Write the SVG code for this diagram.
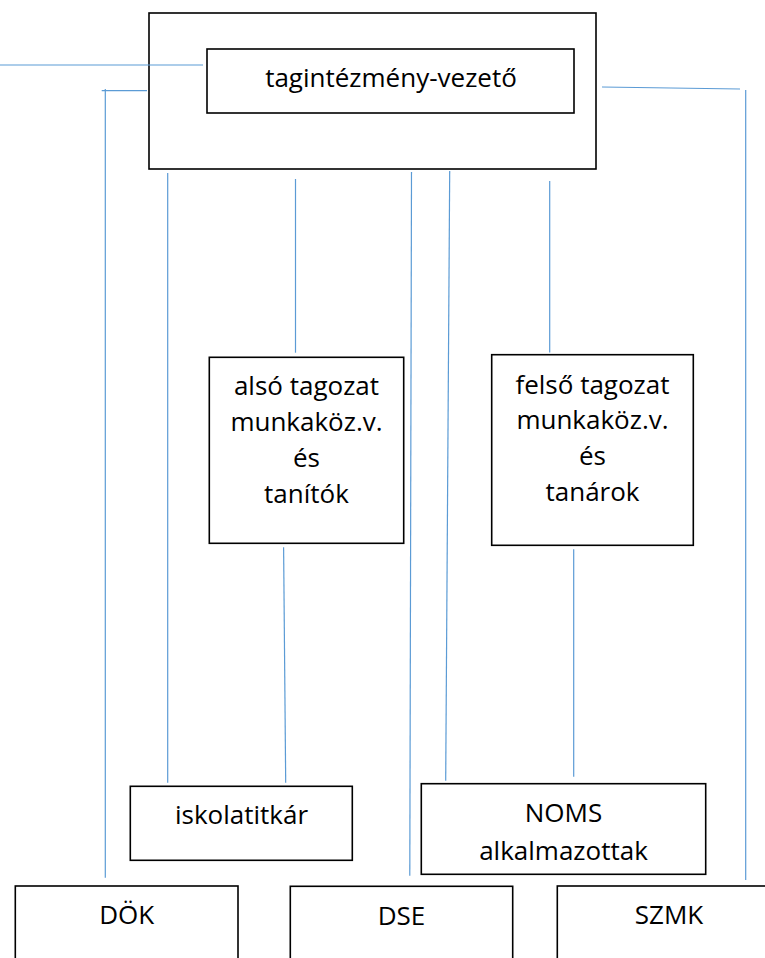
<svg xmlns="http://www.w3.org/2000/svg" width="765" height="958" viewBox="0 0 765 958">
<style>
.box{fill:#fff;stroke:#000;stroke-width:1.6}
.frame{fill:none;stroke:#000;stroke-width:1.6}
.t{font-family:"Open Sans","Liberation Sans",sans-serif;font-size:26px;fill:#000;text-anchor:middle}
.c line{stroke:#5b9bd5;stroke-width:1.2}
</style>
<rect width="765" height="958" fill="#fff"/>
<g id="top">
<rect class="frame" x="149" y="13" width="447" height="156"/>
<rect class="box" x="207" y="49" width="367" height="64"/>
<text class="t" x="391" y="87">tagintézmény-vezető</text>
</g>
<g id="also">
<rect class="box" x="209.3" y="357.3" width="194.4" height="186"/>
<text class="t" x="306.5" y="395">alsó tagozat</text>
<text class="t" x="306.5" y="431">munkaköz.v.</text>
<text class="t" x="306.5" y="467">és</text>
<text class="t" x="306.5" y="503">tanítók</text>
</g>
<g id="felso">
<rect class="box" x="491.7" y="354.7" width="201.6" height="190.6"/>
<text class="t" x="592.5" y="394">felső tagozat</text>
<text class="t" x="592.5" y="429">munkaköz.v.</text>
<text class="t" x="592.5" y="465">és</text>
<text class="t" x="592.5" y="501">tanárok</text>
</g>
<g id="iskolatitkar">
<rect class="box" x="130.3" y="786.3" width="222" height="74"/>
<text class="t" x="241.5" y="824">iskolatitkár</text>
</g>
<g id="noms">
<rect class="box" x="421.3" y="783.7" width="284.4" height="90.6"/>
<text class="t" x="563.5" y="822">NOMS</text>
<text class="t" x="563.5" y="860">alkalmazottak</text>
</g>
<g id="dok">
<rect class="box" x="15.3" y="886" width="222.7" height="90"/>
<text class="t" x="126.7" y="924">DÖK</text>
</g>
<g id="dse">
<rect class="box" x="290.3" y="886.3" width="222.4" height="90"/>
<text class="t" x="401.5" y="925">DSE</text>
</g>
<g id="szmk">
<rect class="box" x="557.3" y="886" width="224" height="90"/>
<text class="t" x="669" y="924">SZMK</text>
</g>
<g id="connectors" class="c">
<line x1="0" y1="65" x2="203" y2="65"/>
<line x1="101.7" y1="90.7" x2="147" y2="90.7"/>
<line x1="105.3" y1="89" x2="105.3" y2="877.7"/>
<line x1="167.7" y1="173" x2="167.7" y2="782.7"/>
<line x1="295.5" y1="179" x2="295.5" y2="352.7"/>
<line x1="283.6" y1="547.3" x2="285.7" y2="782.7"/>
<line x1="411.5" y1="172" x2="409.8" y2="875.7"/>
<line x1="449.7" y1="171" x2="445.7" y2="780.7"/>
<line x1="549.7" y1="181" x2="549.7" y2="352.5"/>
<line x1="573.7" y1="549.3" x2="573.7" y2="776.7"/>
<line x1="602" y1="87" x2="740" y2="89"/>
<line x1="745.7" y1="90" x2="745.7" y2="880"/>
</g>
</svg>
